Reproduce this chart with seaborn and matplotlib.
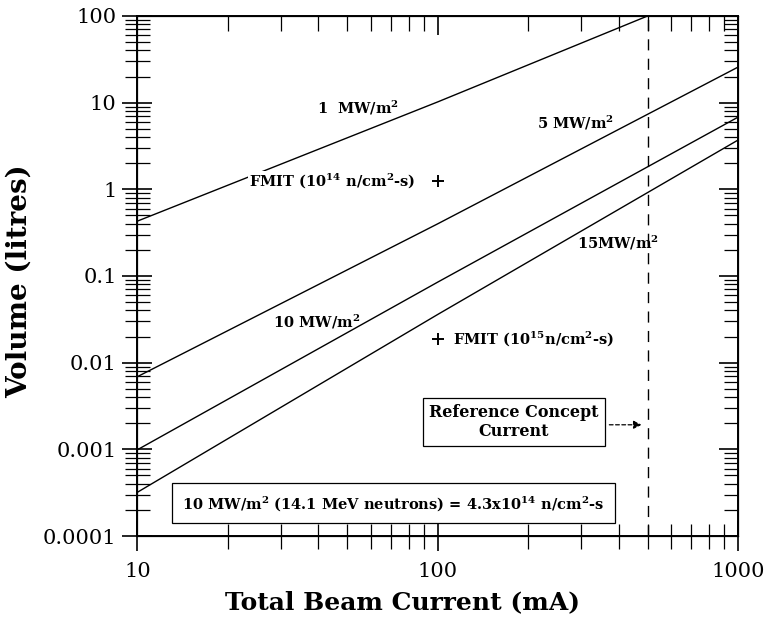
import numpy as np
import pandas as pd
import seaborn as sns
import matplotlib
matplotlib.use("Agg")
import matplotlib.pyplot as plt
from matplotlib.ticker import LogLocator, FixedLocator, NullFormatter

# ---- data ----
series = ["1 MW/m2", "5 MW/m2", "10 MW/m2", "15 MW/m2"]
current_1mw = [10, 100, 500]
volume_1mw = [0.43, 10.2, 100]
current_5mw = [10, 100, 1000]
volume_5mw = [0.0069, 0.40, 25.7]
current_10mw = [10, 100, 1000]
volume_10mw = [0.00099, 0.085, 6.8]
current_15mw = [10, 100, 1000]
volume_15mw = [0.00032, 0.036, 3.7]

fmit_current = [100, 100]
fmit_volume = [1.25, 0.019]

reference_current = 500

x_ticks = [10, 100, 1000]
x_ticklabels = ["10", "100", "1000"]
y_ticks = [0.0001, 0.001, 0.01, 0.1, 1, 10, 100]
y_ticklabels = ["0.0001", "0.001", "0.01", "0.1", "1", "10", "100"]

df = pd.concat([
    pd.DataFrame({"current": current_1mw, "volume": volume_1mw, "series": series[0]}),
    pd.DataFrame({"current": current_5mw, "volume": volume_5mw, "series": series[1]}),
    pd.DataFrame({"current": current_10mw, "volume": volume_10mw, "series": series[2]}),
    pd.DataFrame({"current": current_15mw, "volume": volume_15mw, "series": series[3]}),
], ignore_index=True)

sns.set_style("ticks")
plt.rcParams["font.family"] = ["DejaVu Serif"]
plt.rcParams["mathtext.fontset"] = "dejavuserif"
for k in ["text.color", "axes.labelcolor", "xtick.color", "ytick.color",
          "axes.edgecolor"]:
    plt.rcParams[k] = "black"

fig = plt.figure(figsize=(7.65, 6.24), dpi=100)
ax = fig.add_axes([0.1797, 0.141, 0.785, 0.8334])

sns.lineplot(data=df, x="current", y="volume", hue="series",
             palette={s: "black" for s in series}, linewidth=1.0,
             legend=False, ax=ax, estimator=None, sort=True)

ax.set_xscale("log")
ax.set_yscale("log")
ax.set_xlim(10, 1000)
ax.set_ylim(0.0001, 100)

# FMIT points
ax.scatter(fmit_current, fmit_volume, marker="+", s=70, color="black",
           linewidths=1.4, zorder=5)

# Reference concept current
ax.axvline(reference_current, color="black", linewidth=1.0,
           linestyle=(0, (8, 6)))

fw = "bold"
ax.text(39.5, 8.7, "1  MW/m$^{\\mathbf{2}}$", fontsize=10.5, fontweight=fw,
        ha="left", va="center")
ax.text(23.5, 1.25, "FMIT (10$^{\\mathbf{14}}$ n/cm$^{\\mathbf{2}}$-s)",
        fontsize=10.5, fontweight=fw, ha="left", va="center",
        bbox=dict(facecolor="white", edgecolor="none", pad=0.5), zorder=4)
ax.text(214, 5.8, "5 MW/m$^{\\mathbf{2}}$", fontsize=10.5, fontweight=fw,
        ha="left", va="center")
ax.text(28.3, 0.0295, "10 MW/m$^{\\mathbf{2}}$", fontsize=10.5, fontweight=fw,
        ha="left", va="center")
ax.text(290, 0.241, "15MW/m$^{\\mathbf{2}}$", fontsize=10.5, fontweight=fw,
        ha="left", va="center")
ax.text(112, 0.019, "FMIT (10$^{\\mathbf{15}}$n/cm$^{\\mathbf{2}}$-s)",
        fontsize=10.5, fontweight=fw, ha="left", va="center")

ax.text(179, 0.00207, "Reference Concept\nCurrent", fontsize=11.5,
        fontweight=fw, ha="center", va="center", linespacing=1.15,
        bbox=dict(facecolor="white", edgecolor="black", linewidth=0.9,
                  boxstyle="square,pad=0.4"))
ax.annotate("", xy=(488, 0.00192), xytext=(365, 0.00192),
            arrowprops=dict(arrowstyle="-|>", color="black", lw=0.9,
                            linestyle=(0, (3, 2)), mutation_scale=12))

ax.text(14.1, 0.00024,
        "10 MW/m$^{\\mathbf{2}}$ (14.1 MeV neutrons) = 4.3x10$^{\\mathbf{14}}$ n/cm$^{\\mathbf{2}}$-s",
        fontsize=10.5, fontweight=fw, ha="left", va="center",
        bbox=dict(facecolor="white", edgecolor="black", linewidth=0.9,
                  boxstyle="square,pad=0.7"))

# ticks
ax.xaxis.set_major_locator(FixedLocator(x_ticks))
ax.set_xticklabels(x_ticklabels)
ax.yaxis.set_major_locator(FixedLocator(y_ticks))
ax.set_yticklabels(y_ticklabels)
ax.xaxis.set_minor_locator(LogLocator(base=10, subs=np.arange(2, 10)))
ax.yaxis.set_minor_locator(LogLocator(base=10, subs=np.arange(2, 10)))
ax.xaxis.set_minor_formatter(NullFormatter())
ax.yaxis.set_minor_formatter(NullFormatter())
ax.tick_params(axis="both", which="major", direction="inout", length=22,
               width=1.2, labelsize=15, pad=4)
ax.tick_params(axis="both", which="minor", direction="inout", length=18,
               width=0.9)
ax.tick_params(axis="x", which="major", pad=8)

for sp in ax.spines.values():
    sp.set_linewidth(1.4)
    sp.set_visible(True)

# top and right inward ticks
axt = ax.twiny()
axt.set_xscale("log")
axt.set_xlim(ax.get_xlim())
axt.xaxis.set_major_locator(FixedLocator(x_ticks))
axt.xaxis.set_minor_locator(LogLocator(base=10, subs=np.arange(2, 10)))
axt.tick_params(axis="x", which="major", direction="in", length=14, width=1.2,
                labeltop=False)
axt.tick_params(axis="x", which="minor", direction="in", length=11, width=0.9,
                labeltop=False)
axt.xaxis.set_minor_formatter(NullFormatter())
axt.set_xticklabels([])

axr = ax.twinx()
axr.set_yscale("log")
axr.set_ylim(ax.get_ylim())
axr.yaxis.set_major_locator(FixedLocator(y_ticks))
axr.yaxis.set_minor_locator(LogLocator(base=10, subs=np.arange(2, 10)))
axr.tick_params(axis="y", which="major", direction="in", length=14, width=1.2,
                labelright=False)
axr.tick_params(axis="y", which="minor", direction="in", length=10, width=0.9,
                labelright=False)
axr.yaxis.set_minor_formatter(NullFormatter())
axr.set_yticklabels([])

ax.set_xlabel("Total Beam Current (mA)", fontsize=18, fontweight="bold")
ax.xaxis.set_label_coords(0.442, -0.105)
ax.set_ylabel("Volume (litres)", fontsize=20, fontweight="bold")
ax.yaxis.set_label_coords(-0.175, 0.49)

fig.savefig("out.png", dpi=100)
